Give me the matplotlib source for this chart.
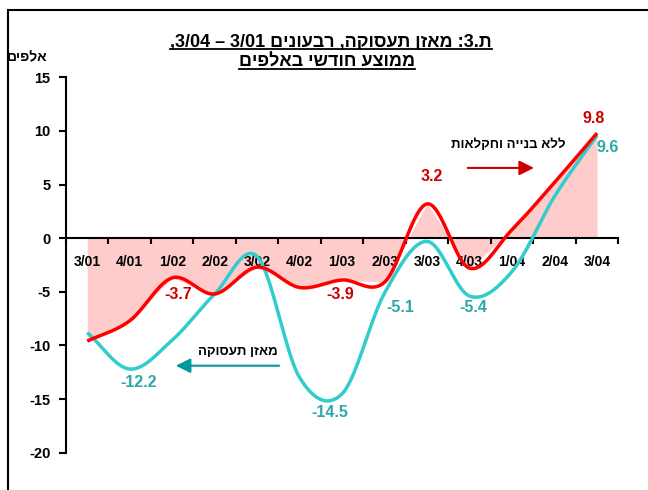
import re
import numpy as np
import matplotlib
matplotlib.use("Agg")
import matplotlib.pyplot as plt
from matplotlib.patches import Rectangle
from matplotlib.lines import Line2D

plt.rcParams['font.family'] = ['Liberation Sans', 'DejaVu Sans']
plt.rcParams['font.weight'] = 'bold'

# quarters 3/01 .. 3/04, monthly average, thousands
quarters = ['3/01', '4/01', '1/02', '2/02', '3/02', '4/02', '1/03',
            '2/03', '3/03', '4/03', '1/04', '2/04', '3/04']
balance = [-8.8, -12.2, -9.5, -5.2, -1.7, -13.0, -14.5,
           -5.1, -0.3, -5.4, -3.1, 3.9, 9.6]          # מאזן תעסוקה
balance_ex = [-9.6, -7.7, -3.7, -5.2, -2.7, -4.6, -3.9,
              -4.1, 3.2, -2.8, 0.8, 5.2, 9.8]         # ללא בנייה וחקלאות

RED = '#FF0000'
RED_TXT = '#CC0000'
CYAN = '#33CCCC'
CYAN_TXT = '#2BA8A8'
TEAL = '#009999'
PINK = '#FFCCCC'


def vis(s):
    # matplotlib has no bidi: put hebrew in visual order, keep numbers LTR
    r = s[::-1]
    return re.sub(r'[0-9][0-9/.]*[0-9]|[0-9]', lambda m: m.group(0)[::-1], r)


def smooth(x, y, n=20):
    # catmull-rom, close to excel's "smoothed line"
    x = np.asarray(x, float)
    y = np.asarray(y, float)
    px = np.concatenate([[2 * x[0] - x[1]], x, [2 * x[-1] - x[-2]]])
    py = np.concatenate([[2 * y[0] - y[1]], y, [2 * y[-1] - y[-2]]])
    xs, ys = [], []
    t = np.linspace(0, 1, n, endpoint=False)
    for i in range(1, len(px) - 2):
        for p, out in ((px, xs), (py, ys)):
            p0, p1, p2, p3 = p[i - 1], p[i], p[i + 1], p[i + 2]
            out.append(0.5 * (2 * p1 + (-p0 + p2) * t
                              + (2 * p0 - 5 * p1 + 4 * p2 - p3) * t ** 2
                              + (-p0 + 3 * p1 - 3 * p2 + p3) * t ** 3))
    xs.append([x[-1]])
    ys.append([y[-1]])
    return np.concatenate(xs), np.concatenate(ys)


fig = plt.figure(figsize=(6.48, 4.9), dpi=100)
ax = fig.add_axes([66 / 648, 1 - 452.7 / 490, (618.3 - 66) / 648, (452.7 - 77.3) / 490])

cats = np.arange(len(quarters))
ax.fill_between(cats, balance_ex, 0, color=PINK, lw=0, zorder=1)
sx, sy = smooth(cats, balance)
ax.plot(sx, sy, color=CYAN, lw=2.5, zorder=3, solid_capstyle='butt')
sx, sy = smooth(cats, balance_ex)
ax.plot(sx, sy, color=RED, lw=2.5, zorder=4, solid_capstyle='butt')

ax.set_xlim(-0.5, len(quarters) - 0.5)
ax.set_ylim(-20, 15)
ax.set_yticks(np.arange(-20, 16, 5))
ax.set_yticklabels([str(v) for v in range(-20, 16, 5)], fontsize=10.5, fontweight='bold')

ax.set_xticks(np.arange(-0.5, len(quarters), 1))
ax.set_xticklabels([])
ax.set_xticks(cats, minor=True)
ax.set_xticklabels(quarters, minor=True, fontsize=11, fontweight='bold')
ax.tick_params(axis='x', which='major', direction='out', length=4, width=1.5)
ax.tick_params(axis='x', which='minor', length=0, pad=12)
ax.tick_params(axis='y', direction='out', length=5, width=1.5, pad=6)

ax.spines['top'].set_visible(False)
ax.spines['right'].set_visible(False)
ax.spines['bottom'].set_position(('data', 0))
ax.spines['bottom'].set_linewidth(1.5)
ax.spines['bottom'].set_zorder(2)
ax.spines['left'].set_linewidth(1.5)

lab = dict(fontsize=11.5, fontweight='bold', ha='center', va='center', zorder=6)
ax.text(2.14, -5.28, '-3.7', color=RED_TXT, **lab)
ax.text(5.95, -5.28, '-3.9', color=RED_TXT, **lab)
ax.text(8.10, 5.74, '3.2', color=RED_TXT, **lab)
ax.text(11.92, 11.2, '9.8', color=RED_TXT, **lab)
ax.text(1.22, -13.47, '-12.2', color=CYAN_TXT, **lab)
ax.text(5.71, -16.27, '-14.5', color=CYAN_TXT, **lab)
ax.text(7.36, -6.49, '-5.1', color=CYAN_TXT, **lab)
ax.text(9.08, -6.49, '-5.4', color=CYAN_TXT, **lab)
ax.text(12.25, 8.5, '9.6', color=CYAN_TXT, **lab)

ax.text(9.9, 8.69, vis('ללא בנייה וחקלאות'), fontsize=9.5, fontweight='bold',
        ha='center', va='center')
ax.annotate('', xy=(10.58, 6.55), xytext=(8.89, 6.55),
            arrowprops=dict(arrowstyle='-|>', color=RED_TXT, lw=1.5, mutation_scale=22))
ax.text(3.55, -10.59, vis('מאזן תעסוקה'), fontsize=9.5, fontweight='bold',
        ha='center', va='center')
ax.annotate('', xy=(2.02, -11.89), xytext=(4.58, -11.89),
            arrowprops=dict(arrowstyle='-|>', color=TEAL, lw=1.5, mutation_scale=22))

# titles
t1 = fig.text(331 / 648, 1 - 42 / 490, vis('ת.3: מאזן תעסוקה, רבעונים 3/01 – 3/04,'),
              fontsize=13, fontweight='bold', ha='center', va='center')
t2 = fig.text(327 / 648, 1 - 62 / 490, vis('ממוצע חודשי באלפים'),
              fontsize=13, fontweight='bold', ha='center', va='center')
fig.text(27 / 648, 1 - 57 / 490, vis('אלפים'), fontsize=10, fontweight='bold',
         ha='center', va='center')

# frame around the chart
fig.add_artist(Rectangle((8 / 648, -0.1), 1.2, 1 - 10 / 490 + 0.1, fill=False,
                         lw=1.5, ec='black', transform=fig.transFigure, clip_on=False))

# underline the title lines
fig.canvas.draw()
r = fig.canvas.get_renderer()
for t in (t1, t2):
    bb = t.get_window_extent(r)
    yy = (bb.y0 + 1) / 490
    fig.add_artist(Line2D([bb.x0 / 648, bb.x1 / 648], [yy, yy], color='black',
                          lw=1.3, transform=fig.transFigure))

fig.savefig('out.png', dpi=100)
